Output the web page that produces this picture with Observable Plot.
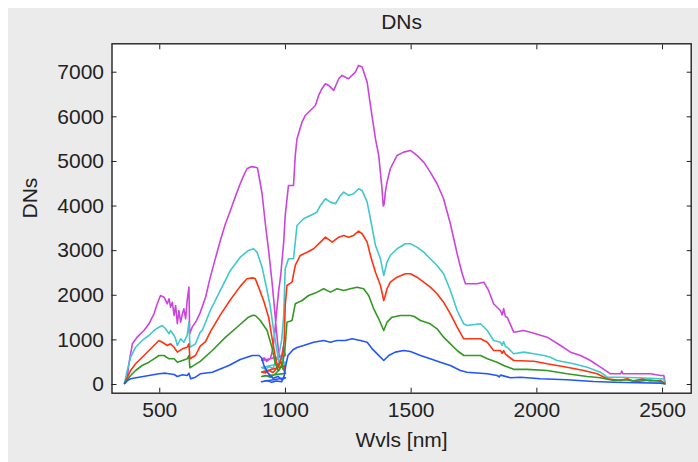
<!DOCTYPE html>
<html><head><meta charset="utf-8">
<script src="https://cdn.jsdelivr.net/npm/d3@7"></script>
<script src="https://cdn.jsdelivr.net/npm/@observablehq/plot@0.6"></script>
<style>
html,body{margin:0;padding:0;background:#fff;width:698px;height:462px;overflow:hidden;}
#bg{position:absolute;left:8px;top:8px;right:0;bottom:0;background:#ebebeb;}
#chart{position:absolute;left:0;top:0;}
</style></head><body><div id="bg"></div><div id="chart"></div>
<script>
const title = "DNs";
const xLabel = "Wvls [nm]";
const yLabel = "DNs";
const xTicks = [500, 1000, 1500, 2000, 2500];
const yTicks = [0, 1000, 2000, 3000, 4000, 5000, 6000, 7000];

const magenta = [[360,30],[371,150],[377,464],[391,912],[410,1061],[437,1211],[457,1361],[477,1585],[490,1809],[503,1995],[517,1957],[530,1809],[537,1921],[543,1733],[550,1845],[557,1547],[563,1771],[570,1361],[576,1659],[583,1397],[590,1585],[596,1697],[603,1473],[609,1883],[616,2182],[619,1137],[629,1285],[645,1420],[660,1600],[682,1950],[701,2406],[720,2800],[741,3229],[760,3580],[781,3901],[800,4200],[820,4500],[835,4700],[847,4836],[862,4880],[880,4872],[888,4860],[893,4724],[907,4276],[920,3603],[933,3004],[946,2332],[956,1733],[964,1211],[972,760],[982,560],[992,850],[1000,650],
[905,540],[915,600],[925,520],[940,580],[950,800],[958,1200],[966,1700],[973,2100],[981,2444],[993,3191],[999,3789],[1012,4462],[1032,4462],[1039,5135],[1046,5509],[1066,5882],[1079,6031],[1106,6181],[1119,6255],[1132,6480],[1145,6630],[1159,6742],[1172,6704],[1192,6592],[1212,6854],[1225,6928],[1251,6854],[1278,7002],[1291,7152],[1305,7115],[1325,6778],[1338,6256],[1358,5509],[1371,5135],[1384,4388],[1389,4000],[1393,4050],[1397,4300],[1404,4536],[1417,4836],[1444,5135],[1470,5209],[1497,5247],[1523,5135],[1550,4985],[1576,4761],[1603,4500],[1629,4164],[1656,3603],[1683,2930],[1703,2482],[1716,2258],[1762,2258],[1789,2294],[1808,2108],[1828,1809],[1855,1659],[1862,1560],[1868,1700],[1875,1520],[1882,1509],[1908,1173],[1948,1211],[1988,1151],[2041,1061],[2094,874],[2134,725],[2174,650],[2213,538],[2253,388],[2293,240],[2333,240],[2338,300],[2342,240],[2386,240],[2452,240],[2492,202],[2505,202],[2510,40]];

const cyan = [[360,30],[370,300],[384,612],[404,836],[430,987],[457,1099],[477,1211],[497,1285],[510,1323],[523,1249],[537,1137],[543,1211],[557,1099],[563,1025],[570,874],[583,1025],[596,948],[609,1099],[616,1397],[620,836],[642,912],[661,1173],[669,1211],[701,1659],[741,2108],[781,2556],[820,2854],[853,3004],[873,3042],[887,2966],[907,2630],[927,2108],[940,1733],[953,1211],[966,762],[975,480],[985,650],[993,420],[1000,500],
[905,380],[920,340],[935,400],[950,360],[962,520],[975,700],[985,1000],[993,1547],[999,2594],[1012,2818],[1032,2818],[1046,3565],[1072,3715],[1099,3789],[1125,3863],[1139,4013],[1159,4164],[1179,4088],[1199,4051],[1219,4238],[1232,4312],[1251,4238],[1271,4276],[1291,4388],[1305,4350],[1325,4088],[1338,3715],[1358,3117],[1378,2818],[1391,2444],[1404,2742],[1417,2892],[1444,3042],[1477,3155],[1497,3155],[1523,3079],[1550,2966],[1576,2818],[1603,2668],[1629,2482],[1656,2108],[1683,1659],[1709,1361],[1722,1323],[1776,1361],[1803,1211],[1828,987],[1855,948],[1862,880],[1868,960],[1875,850],[1882,836],[1908,688],[1948,725],[1988,688],[2028,650],[2054,612],[2080,538],[2147,464],[2200,388],[2253,276],[2280,164],[2333,164],[2400,150],[2492,128],[2505,120],[2510,30]];

const red = [[360,30],[370,150],[384,314],[404,464],[430,612],[457,762],[477,874],[497,987],[510,948],[530,874],[543,912],[557,836],[570,725],[590,800],[609,836],[616,912],[620,576],[642,650],[661,860],[682,960],[701,1180],[741,1560],[781,1900],[820,2200],[847,2370],[870,2390],[880,2370],[893,2182],[913,1883],[933,1509],[946,1061],[960,612],[970,380],[982,520],[992,330],[1000,420],
[905,280],[920,260],[935,320],[950,270],[965,360],[978,500],[990,700],[995,1000],[999,1771],[1006,2220],[1026,2294],[1039,2668],[1059,2892],[1086,2966],[1112,3042],[1139,3191],[1159,3303],[1186,3191],[1212,3303],[1232,3341],[1251,3303],[1271,3341],[1291,3437],[1305,3379],[1325,3191],[1338,2892],[1358,2518],[1378,2220],[1391,1883],[1395,1950],[1404,2146],[1417,2294],[1444,2406],[1477,2482],[1497,2482],[1523,2406],[1550,2294],[1576,2182],[1603,2034],[1629,1845],[1656,1585],[1683,1285],[1709,1025],[1776,1025],[1803,948],[1828,762],[1855,762],[1862,700],[1868,760],[1875,680],[1882,650],[1908,538],[1988,522],[2041,464],[2120,388],[2187,314],[2240,240],[2280,128],[2333,90],[2360,130],[2380,80],[2420,120],[2450,80],[2492,90],[2510,20]];

const green = [[360,30],[370,100],[384,202],[404,314],[430,426],[457,500],[477,576],[497,650],[517,650],[537,576],[557,576],[570,500],[590,538],[609,576],[616,650],[620,374],[656,500],[661,520],[709,762],[762,1061],[815,1323],[853,1509],[870,1550],[880,1547],[900,1435],[927,1211],[946,836],[960,464],[972,300],[985,420],[1000,250],
[905,180],[920,200],[940,160],[960,240],[975,330],[990,500],[998,800],[1006,1397],[1026,1435],[1039,1809],[1066,1883],[1092,1995],[1126,2070],[1152,2146],[1179,2070],[1205,2146],[1232,2108],[1258,2146],[1285,2182],[1311,2146],[1331,1995],[1351,1697],[1371,1473],[1391,1211],[1404,1397],[1424,1509],[1457,1547],[1497,1547],[1512,1525],[1537,1435],[1576,1361],[1603,1249],[1629,1061],[1656,912],[1683,762],[1709,650],[1776,650],[1803,576],[1842,500],[1868,426],[1908,340],[1961,340],[2041,314],[2120,240],[2200,180],[2253,150],[2306,90],[2350,110],[2400,70],[2450,100],[2492,74],[2510,10]];

const blue = [[360,20],[370,80],[384,128],[417,164],[457,202],[497,240],[523,254],[557,224],[570,180],[590,217],[609,202],[616,254],[623,128],[642,164],[661,240],[709,276],[775,426],[820,560],[841,600],[868,650],[895,650],[905,600],[915,420],[930,260],[950,140],[970,180],[985,110],[1000,150],
[905,60],[925,90],[945,50],[965,80],[985,60],[995,200],[1002,450],[1010,650],[1030,780],[1046,830],[1072,874],[1112,948],[1152,987],[1179,948],[1205,987],[1238,987],[1265,1025],[1298,987],[1325,948],[1345,800],[1365,688],[1391,538],[1411,650],[1437,725],[1470,762],[1497,740],[1537,650],[1576,576],[1616,500],[1656,426],[1696,314],[1722,276],[1803,240],[1842,202],[1850,170],[1856,210],[1895,150],[1935,164],[2014,128],[2120,105],[2226,67],[2306,52],[2400,40],[2492,30],[2505,20]];

const series = [
  {pts: magenta, color: "#cc44dd"},
  {pts: cyan, color: "#40c8cc"},
  {pts: red, color: "#ff3311"},
  {pts: green, color: "#339922"},
  {pts: blue, color: "#2255ff"}
];

const FONT = "'Liberation Sans', Arial, sans-serif";
const fmt = d => String(d);

const plot = Plot.plot({
  width: 698, height: 462,
  marginLeft: 111.5, marginRight: 7.3, marginTop: 43.3, marginBottom: 69.3,
  style: {background: "transparent", fontFamily: FONT, fontSize: "21px", color: "#222", overflow: "visible"},
  x: {domain: [310, 2614]},
  y: {domain: [-195, 7637]},
  marks: [
    Plot.frame({fill: "white"}),
    ...series.map(s => Plot.line(s.pts, {x: d => d[0], y: d => d[1], stroke: s.color, strokeWidth: 1.6, curve: "linear"})),
    Plot.axisX({anchor: "bottom", ticks: xTicks, tickSize: -5, tickPadding: 14, tickFormat: fmt, label: null, stroke: "#222", fill: "#222"}),
    Plot.axisX({anchor: "top", ticks: xTicks, tickSize: -5, tickFormat: () => "", label: null, stroke: "#222"}),
    Plot.axisY({anchor: "left", ticks: yTicks, tickSize: -5, tickPadding: 13, tickFormat: fmt, label: null, stroke: "#222", fill: "#222"}),
    Plot.axisY({anchor: "right", ticks: yTicks, tickSize: -5, tickFormat: () => "", label: null, stroke: "#222"}),
    Plot.frame({stroke: "#222", strokeWidth: 1.4}),
    Plot.text([title], {frameAnchor: "top", dy: -22, lineAnchor: "middle", fill: "#222", fontSize: 21}),
    Plot.text([xLabel], {frameAnchor: "bottom", dy: 47, lineAnchor: "middle", fill: "#222", fontSize: 21}),
    Plot.text([yLabel], {frameAnchor: "left", dx: -82, rotate: -90, lineAnchor: "middle", fill: "#222", fontSize: 21})
  ]
});
document.getElementById("chart").appendChild(plot);
</script></body></html>
